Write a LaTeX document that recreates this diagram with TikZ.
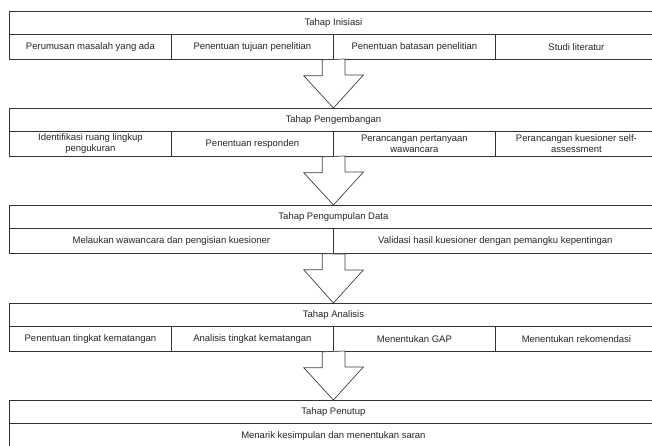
\documentclass[tikz,border=0pt]{standalone}
\usepackage{fontspec}
\setmainfont{Liberation Sans}
\usepackage{tikz}

\tikzset{
  tahap/.style={draw=black!80, line width=0.8pt, minimum width=648pt, minimum height=23pt, inner sep=0pt, anchor=north west, text=black!85},
  sel/.style={draw=black!80, line width=0.8pt, minimum width=162pt, minimum height=25pt, inner sep=0pt, anchor=north west, align=center, text=black!85},
  selbesar/.style={sel, minimum width=324pt},
  panah/.style={draw=black!75, line width=0.7pt, fill=white}
}

\begin{document}
\begin{tikzpicture}[x=1pt,y=-1pt,font=\fontsize{9.5}{11}\selectfont]
			\useasboundingbox[fill=white] (0,0) rectangle (652,446);

			% tahap inisiasi
			\node[tahap] (inisiasi) at (9,11) {Tahap Inisiasi};
			\node[sel] (rumusan) at (9,34) {Perumusan masalah yang ada};
			\node[sel] (tujuan) at (171,34) {Penentuan tujuan penelitian};
			\node[sel] (batasan) at (333,34) {Penentuan batasan penelitian};
			\node[sel] (literatur) at (495,34) {Studi literatur};

			% tahap pengembangan
			\node[tahap] (pengembangan) at (9,108) {Tahap Pengembangan};
			\node[sel] (identifikasi) at (9,131) {Identifikasi ruang lingkup\\pengukuran};
			\node[sel] (responden) at (171,131) {Penentuan responden};
			\node[sel] (pertanyaan) at (333,131) {Perancangan pertanyaan\\wawancara};
			\node[sel] (kuesioner) at (495,131) {Perancangan kuesioner self-\\assessment};

			% tahap pengumpulan data
			\node[tahap] (pengumpulan) at (9,205) {Tahap Pengumpulan Data};
			\node[selbesar] (wawancara) at (9,228) {Melaukan wawancara dan pengisian kuesioner};
			\node[selbesar] (validasi) at (333,228) {Validasi hasil kuesioner dengan pemangku kepentingan};

			% tahap analisis
			\node[tahap] (analisis) at (9,303) {Tahap Analisis};
			\node[sel] (kematangan) at (9,326) {Penentuan tingkat kematangan};
			\node[sel] (tingkat) at (171,326) {Analisis tingkat kematangan};
			\node[sel] (gap) at (333,326) {Menentukan GAP};
			\node[sel] (rekomendasi) at (495,326) {Menentukan rekomendasi};

			% tahap penutup
			\node[tahap] (penutup) at (9,400) {Tahap Penutup};
			\node[sel, minimum width=648pt] (simpulan) at (9,423) {Menarik kesimpulan dan menentukan saran};

			% panah antar tahap
			\draw[panah] ([xshift=-11.5pt]tujuan.south east) -- ++(0,16) -- ++(-18.5,0) -- (pengembangan.north) -- ++(30,-33) -- ++(-18.5,0) -- ++(0,-16) -- cycle;
			\draw[panah] ([xshift=-11.5pt]responden.south east) -- ++(0,16) -- ++(-18.5,0) -- (pengumpulan.north) -- ++(30,-33) -- ++(-18.5,0) -- ++(0,-16) -- cycle;
			\draw[panah] ([xshift=-11.5pt]wawancara.south east) -- ++(0,16) -- ++(-18.5,0) -- (analisis.north) -- ++(30,-33) -- ++(-18.5,0) -- ++(0,-16) -- cycle;
			\draw[panah] ([xshift=-11.5pt]tingkat.south east) -- ++(0,16) -- ++(-18.5,0) -- (penutup.north) -- ++(30,-33) -- ++(-18.5,0) -- ++(0,-16) -- cycle;
		\end{tikzpicture}
\end{document}
